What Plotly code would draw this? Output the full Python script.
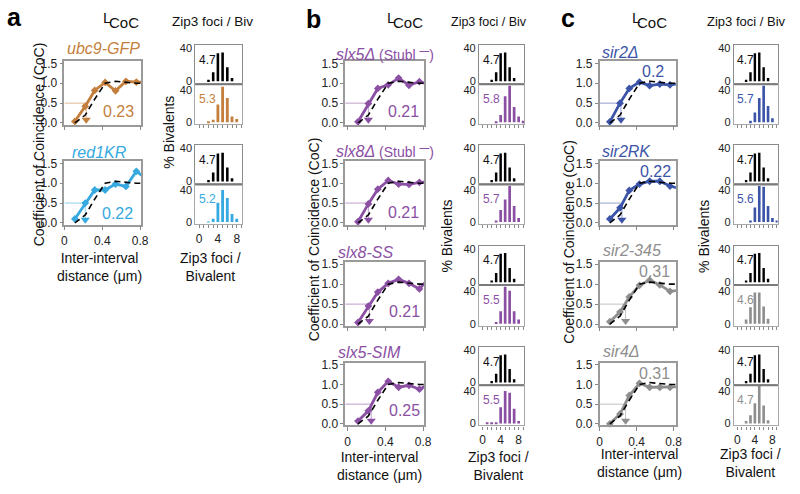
import plotly.graph_objects as go

W, H = 800, 494
FONT = "Arial, Liberation Sans, sans-serif"

# ---------------- data ----------------
COC_X = [0.11, 0.22, 0.32, 0.43, 0.54, 0.65, 0.76, 0.86]
WT_COC = [0.0, 0.2, 0.6, 1.0, 1.05, 1.02, 1.0, 1.0]

STRAINS = ["ubc9-GFP", "red1KR", "slx5Δ", "slx8Δ", "slx8-SS", "slx5-SIM",
           "sir2Δ", "sir2RK", "sir2-345", "sir4Δ"]

UBC9_COC = [0.04, 0.42, 0.82, 1.02, 0.81, 1.05, 1.03, 1.03]
RED1KR_COC = [0.1, 0.5, 0.83, 0.83, 0.98, 0.92, 1.3, 1.12]
SLX5_COC = [0.03, 0.49, 0.87, 0.96, 1.13, 0.95, 1.04, 0.97]
SLX8_COC = [0.03, 0.48, 0.85, 1.07, 0.98, 0.97, 1.02, 1.03]
SLX8SS_COC = [0.04, 0.45, 0.8, 1.02, 1.12, 1.02, 0.88, 1.15]
SLX5SIM_COC = [0.07, 0.33, 0.8, 1.08, 0.93, 0.98, 0.88, 1.0]
SIR2_COC = [0.03, 0.5, 0.87, 1.03, 0.94, 0.98, 0.96, 0.99]
SIR2RK_COC = [0.1, 0.38, 0.82, 0.98, 1.05, 1.05, 0.93, 0.87]
SIR2_345_COC = [0.06, 0.3, 0.68, 0.97, 1.1, 0.98, 0.82, 0.85]
SIR4_COC = [0.0, 0.25, 0.72, 1.03, 0.93, 0.93, 0.93, 0.94]
COC_SERIES = [UBC9_COC, RED1KR_COC, SLX5_COC, SLX8_COC, SLX8SS_COC, SLX5SIM_COC,
              SIR2_COC, SIR2RK_COC, SIR2_345_COC, SIR4_COC]

LCOC_LABELS = ["0.23", "0.22", "0.21", "0.21", "0.21", "0.25", "0.2", "0.22", "0.31", "0.31"]
ARROW_X = [0.23, 0.22, 0.22, 0.22, 0.23, 0.25, 0.23, 0.24, 0.28, 0.28]
ARROW_Y = 0.08
HALF_COC = 0.5

HIST_BINS = [0, 1, 2, 3, 4, 5, 6, 7, 8, 9]
WT_HIST = [0, 0, 2, 11, 34, 35, 17, 4, 0, 0]
UBC9_HIST = [0, 0, 0.5, 3, 22, 44, 30, 7, 4, 0]
RED1KR_HIST = [0, 0, 0.5, 4, 24, 40, 30, 10, 4, 0]
SLX5_HIST = [0, 0, 0, 1, 9, 32, 45, 19, 7, 2]
SLX8_HIST = [0, 0, 0, 2, 15, 28, 45, 20, 5, 0]
SLX8SS_HIST = [0, 0, 0, 2, 15, 45, 40, 15, 5, 0]
SLX5SIM_HIST = [0, 0.5, 0.5, 1, 20, 40, 38, 18, 3, 0]
SIR2_HIST = [0, 0, 0, 2, 12, 30, 45, 20, 5, 0]
SIR2RK_HIST = [0, 0, 0, 2, 18, 45, 44, 20, 5, 1]
SIR2_345_HIST = [0, 0, 5, 20, 38, 38, 21, 6, 0, 0]
SIR4_HIST = [0, 0, 3, 10, 25, 48, 22, 4, 0, 0]
HIST_SERIES = [UBC9_HIST, RED1KR_HIST, SLX5_HIST, SLX8_HIST, SLX8SS_HIST, SLX5SIM_HIST,
               SIR2_HIST, SIR2RK_HIST, SIR2_345_HIST, SIR4_HIST]
WT_MEAN = "4.7"
HIST_MEANS = ["5.3", "5.2", "5.8", "5.7", "5.5", "5.5", "5.7", "5.6", "4.6", "4.7"]

# ---------------- style ----------------
ORANGE = "#C47F3D"
CYAN = "#36A9E0"
PURPLE = "#8B4FA4"
BLUE = "#3B54A8"
GRAY = "#8E8E8E"
COLORS = [ORANGE, CYAN, PURPLE, PURPLE, PURPLE, PURPLE, BLUE, BLUE, GRAY, GRAY]


def light(c, a=0.55):
    r, g, b = int(c[1:3], 16), int(c[3:5], 16), int(c[5:7], 16)
    return f"rgba({r},{g},{b},{a})"


STUBL = "<span style='font-size:14px'> (Stubl <sup><b>—</b></sup>)</span>"
TITLES = [
    "<i>ubc9-GFP</i>", "<i>red1KR</i>",
    "<i>slx5Δ</i>" + STUBL, "<i>slx8Δ</i>" + STUBL,
    "<i>slx8-SS</i>", "<i>slx5-SIM</i>",
    "<i>sir2Δ</i>", "<i>sir2RK</i>", "<i>sir2-345</i>", "<i>sir4Δ</i>",
]
TITLE_POS = [(63, 45), (68, 151), (336, 50), (336, 149), (338, 253), (338, 355),
             (605, 49), (605, 150), (606, 251), (606, 354)]
LCOC_POS = [(117, 109), (116, 213), (406, 109), (406, 212), (407, 313), (407, 415),
            (659, 68), (662, 170), (661, 273), (661, 377)]

COC_ROWS = [(57.7, 122.3), (160, 224.5), (263, 328), (366, 430)]
HIST_ROWS = [(41, 81, 122), (143.5, 183.5, 224), (246, 286.5, 328), (350, 389, 430)]

PANELS = [
    dict(letter="a", letter_xy=(12, 12), L_xy=(105, 13), C_xy=(123, 18), zip_xy=(212, 17), zip_size=13.5,
         coc_x=(62.3, 140), coc_range=[0, 0.81], hist_x=(195, 242.7), strains=[0, 1],
         yt_coc=(36, 143), yt_hist=(168, 130), xt_coc=(98, 268), xt_hist=(210, 268)),
    dict(letter="b", letter_xy=(315, 14), L_xy=(393.5, 13), C_xy=(411, 18), zip_xy=(493, 17), zip_size=12.5,
         coc_x=(347, 427), coc_range=[-0.025, 0.81], hist_x=(482.7, 528.3), strains=[2, 3, 4, 5],
         yt_coc=(315, 240), yt_hist=(450, 236), xt_coc=(382, 472), xt_hist=(502, 472)),
    dict(letter="c", letter_xy=(573, 13), L_xy=(641.5, 13), C_xy=(658.5, 18), zip_xy=(753.5, 17), zip_size=13,
         coc_x=(605, 682.3), coc_range=[0, 0.824], hist_x=(741, 785.5), strains=[6, 7, 8, 9],
         yt_coc=(574, 242), yt_hist=(710, 237), xt_coc=(645, 468), xt_hist=(758, 468)),
]

fig = go.Figure()
layout = {}
annotations = []
shapes = []
counter = [0]


def new_axes(xpx, ypx, xkw, ykw):
    counter[0] += 1
    n = counter[0]
    s = "" if n == 1 else str(n)
    layout["xaxis" + s] = dict(domain=[xpx[0] / W, xpx[1] / W], anchor="y" + s, **xkw)
    layout["yaxis" + s] = dict(domain=[1 - ypx[1] / H, 1 - ypx[0] / H], anchor="x" + s, **ykw)
    return "x" + s, "y" + s


def ann(text, x, y, size, color="#222", xanchor="center", yanchor="middle", angle=0):
    annotations.append(dict(text=text, x=x / W, y=1 - y / H, xref="paper", yref="paper",
                            showarrow=False, xanchor=xanchor, yanchor=yanchor, textangle=angle,
                            font=dict(size=size, color=color, family=FONT)))


TICKFONT = dict(size=12, color="#222", family=FONT)
HTICKFONT = dict(size=11, color="#222", family=FONT)

for p in PANELS:
    ann(f"<b>{p['letter']}</b>", *p["letter_xy"], 25, "#000")
    ann("L", *p["L_xy"], 15, "#111")
    ann("CoC", *p["C_xy"], 15, "#111")
    ann("Zip3 foci / Biv", *p["zip_xy"], p["zip_size"], "#111")
    ann("Coefficient of Coincidence (CoC)", *p["yt_coc"], 14, "#111", angle=-90)
    ann("% Bivalents", *p["yt_hist"], 14, "#111", angle=-90)
    ann("Inter-interval<br>distance (μm)", *p["xt_coc"], 14, "#111")
    ann("Zip3 foci /<br>Bivalent", *p["xt_hist"], 14, "#111")

    nrows = len(p["strains"])
    for r, i in enumerate(p["strains"]):
        last = r == nrows - 1
        col = COLORS[i]
        # ---- CoC plot ----
        xkw = dict(range=p["coc_range"], tickmode="array", tickvals=[0, 0.4, 0.8],
                   ticktext=["0", "0.4", "0.8"], showticklabels=last, ticks="outside",
                   ticklen=4, tickcolor="#888", showline=True, linewidth=1.5, linecolor="#9a9a9a",
                   mirror=True, showgrid=False, zeroline=False, tickfont=TICKFONT)
        ykw = dict(range=[-0.04, 1.55], tickmode="array", tickvals=[0, 0.5, 1.0, 1.5],
                   ticktext=["0.0", "0.5", "1.0", "1.5"], ticks="outside", ticklen=3,
                   tickcolor="#888", showline=True, linewidth=1.5, linecolor="#9a9a9a",
                   mirror=True, showgrid=False, zeroline=False, tickfont=TICKFONT)
        xa, ya = new_axes(p["coc_x"], COC_ROWS[r], xkw, ykw)
        ys = COC_SERIES[i]
        fig.add_trace(go.Scatter(x=[p["coc_range"][0], ARROW_X[i], ARROW_X[i]],
                                 y=[HALF_COC, HALF_COC, ARROW_Y], mode="lines",
                                 line=dict(color=light(col), width=1), xaxis=xa, yaxis=ya,
                                 showlegend=False, hoverinfo="skip"))
        fig.add_trace(go.Scatter(x=COC_X, y=ys, mode="lines", line=dict(color=col, width=2.8),
                                 xaxis=xa, yaxis=ya, showlegend=False))
        fig.add_trace(go.Scatter(x=COC_X[:7], y=ys[:7], mode="markers",
                                 marker=dict(color=col, size=6, symbol="diamond"),
                                 xaxis=xa, yaxis=ya, showlegend=False, cliponaxis=False))
        fig.add_trace(go.Scatter(x=COC_X, y=WT_COC, mode="lines",
                                 line=dict(color="#000", width=1.6, dash="6px,4px"),
                                 xaxis=xa, yaxis=ya, showlegend=False))
        fig.add_trace(go.Scatter(x=[ARROW_X[i]], y=[ARROW_Y], mode="markers",
                                 marker=dict(color=col, size=8, symbol="triangle-down"),
                                 xaxis=xa, yaxis=ya, showlegend=False, cliponaxis=False))
        ann(TITLES[i], *TITLE_POS[i], 16, col, xanchor="left")
        ann(LCOC_LABELS[i], *LCOC_POS[i], 16, col)

        # ---- histograms ----
        top, sep, bot = HIST_ROWS[r]
        hx = p["hist_x"]
        bxkw = dict(range=[-0.8, 9.2], showticklabels=False, ticks="", showline=True,
                    linewidth=1.2, linecolor="#8a8a8a", mirror=True, showgrid=False, zeroline=False)
        bykw = dict(range=[-3.5, 44], tickmode="array", tickvals=[0, 40], ticks="", showline=True,
                    linewidth=1.2, linecolor="#8a8a8a", mirror=True, showgrid=False,
                    zeroline=False, tickfont=HTICKFONT)
        xb, yb = new_axes(hx, (top, sep), bxkw, bykw)
        fig.add_trace(go.Bar(x=HIST_BINS, y=WT_HIST, width=0.55, marker=dict(color="#000", line=dict(width=0)),
                             xaxis=xb, yaxis=yb, showlegend=False))
        cxkw = dict(range=[-0.8, 9.2], tickmode="linear", tick0=0, dtick=4, showticklabels=last,
                    ticks="outside", ticklen=3, tickcolor="#888",
                    minor=dict(tick0=0, dtick=1, ticks="outside", ticklen=3, tickcolor="#888"),
                    showline=True, linewidth=1.2, linecolor="#a8a8a8", mirror=True,
                    showgrid=False, zeroline=False, tickfont=TICKFONT)
        cykw = dict(range=[-2.5, 47], tickmode="array", tickvals=[0, 40], ticks="", showline=True,
                    linewidth=1.2, linecolor="#a8a8a8", mirror=True, showgrid=False,
                    zeroline=False, tickfont=HTICKFONT)
        xc, yc = new_axes(hx, (sep, bot), cxkw, cykw)
        fig.add_trace(go.Bar(x=HIST_BINS, y=HIST_SERIES[i], width=0.6,
                             marker=dict(color=col, line=dict(width=0)),
                             xaxis=xc, yaxis=yc, showlegend=False))
        shapes.append(dict(type="line", xref="paper", yref="paper", x0=hx[0] / W, x1=hx[1] / W,
                           y0=1 - sep / H, y1=1 - sep / H, line=dict(color="#7a7a7a", width=2)))
        ann(WT_MEAN, hx[0] + 1.5, top + 15, 12, "#111", xanchor="left")
        ann(HIST_MEANS[i], hx[0] + 1.5, sep + 15, 12, col, xanchor="left")

fig.update_layout(**layout)
fig.update_layout(width=W, height=H, margin=dict(l=0, r=0, t=0, b=0), autosize=False,
                  paper_bgcolor="white", plot_bgcolor="white", annotations=annotations,
                  shapes=shapes, font=dict(family=FONT), barmode="overlay", showlegend=False)

fig.write_html("out.html", config={"displayModeBar": False},
               post_script="document.body.style.margin='0px';")
